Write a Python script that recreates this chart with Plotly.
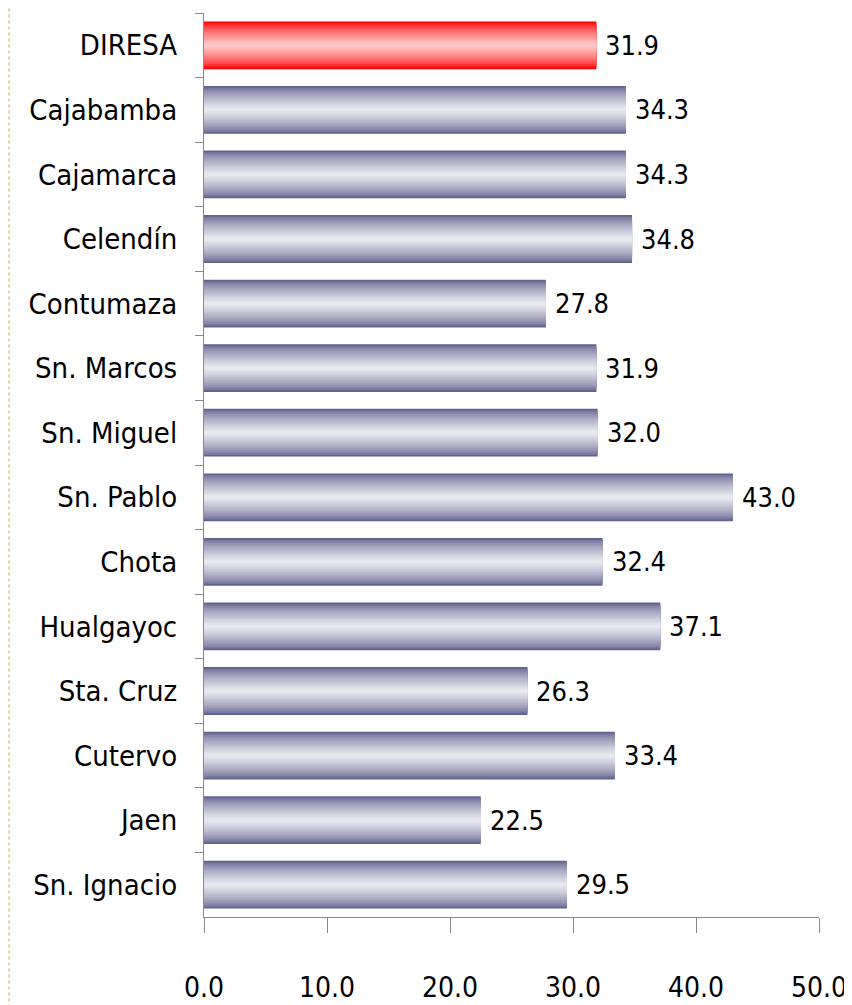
import plotly.graph_objects as go

categories = ["DIRESA", "Cajabamba", "Cajamarca", "Celendín", "Contumaza", "Sn. Marcos",
              "Sn. Miguel", "Sn. Pablo", "Chota", "Hualgayoc", "Sta. Cruz", "Cutervo",
              "Jaen", "Sn. Ignacio"]
values = [31.9, 34.3, 34.3, 34.8, 27.8, 31.9, 32.0, 43.0, 32.4, 37.1, 26.3, 33.4, 22.5, 29.5]
x_ticks = [0, 10, 20, 30, 40, 50]
x_tick_labels = ["0.0", "10.0", "20.0", "30.0", "40.0", "50.0"]

FONT = "DejaVu Sans Condensed, Liberation Sans Narrow, sans-serif"

def lerp(c1, c2, t):
    return "rgb(%d,%d,%d)" % tuple(round(a + (b - a) * t) for a, b in zip(c1, c2))

blue_edge, blue_mid = (98, 98, 142), (232, 232, 240)
red_edge, red_mid = (255, 0, 0), (255, 200, 200)

fig = go.Figure()
full_w = 0.74
N = 14
for k in range(N):
    t = k / (N - 1)
    tt = t ** 0.7
    colors = [lerp(red_edge, red_mid, tt) if c == "DIRESA" else lerp(blue_edge, blue_mid, tt)
              for c in categories]
    fig.add_trace(go.Bar(
        x=values, y=categories, orientation="h",
        width=full_w * (1 - k / N),
        marker=dict(color=colors, line=dict(width=0)),
        hoverinfo="skip", showlegend=False,
    ))

for c, v in zip(categories, values):
    fig.add_annotation(x=v, y=c, text=f"{v:.1f}", showarrow=False, xanchor="left",
                       xshift=7, font=dict(family=FONT, size=27, color="black"))

fig.add_shape(type="line", xref="paper", yref="paper", x0=-0.317, x1=-0.317, y0=-0.1, y1=1.01,
              line=dict(color="#e3d59b", width=2, dash="dot"))

# page body has an 8px default margin, so the figure is 8px smaller and margins shifted
fig.update_layout(
    barmode="overlay",
    width=844, height=997,
    margin=dict(l=196, r=33, t=5, b=88),
    paper_bgcolor="white", plot_bgcolor="white",
    font=dict(family=FONT, size=28, color="black"),
    xaxis=dict(range=[0, 50], tickvals=x_ticks, ticktext=x_tick_labels, automargin=False,
               showgrid=False, zeroline=False, showline=True, linecolor="#888888",
               linewidth=1, ticks="outside", ticklen=15, tickcolor="#888888",
               ticklabelstandoff=30, tickfont=dict(family=FONT, size=28), fixedrange=True),
    yaxis=dict(categoryorder="array", categoryarray=categories, autorange="reversed",
               automargin=False,
               showgrid=False, showline=True, linecolor="#888888", linewidth=1,
               ticks="outside", ticklen=8, tickcolor="#888888", tickson="boundaries",
               ticklabelstandoff=20, tickfont=dict(family=FONT, size=29)),
)

fig.write_html("out.html")
